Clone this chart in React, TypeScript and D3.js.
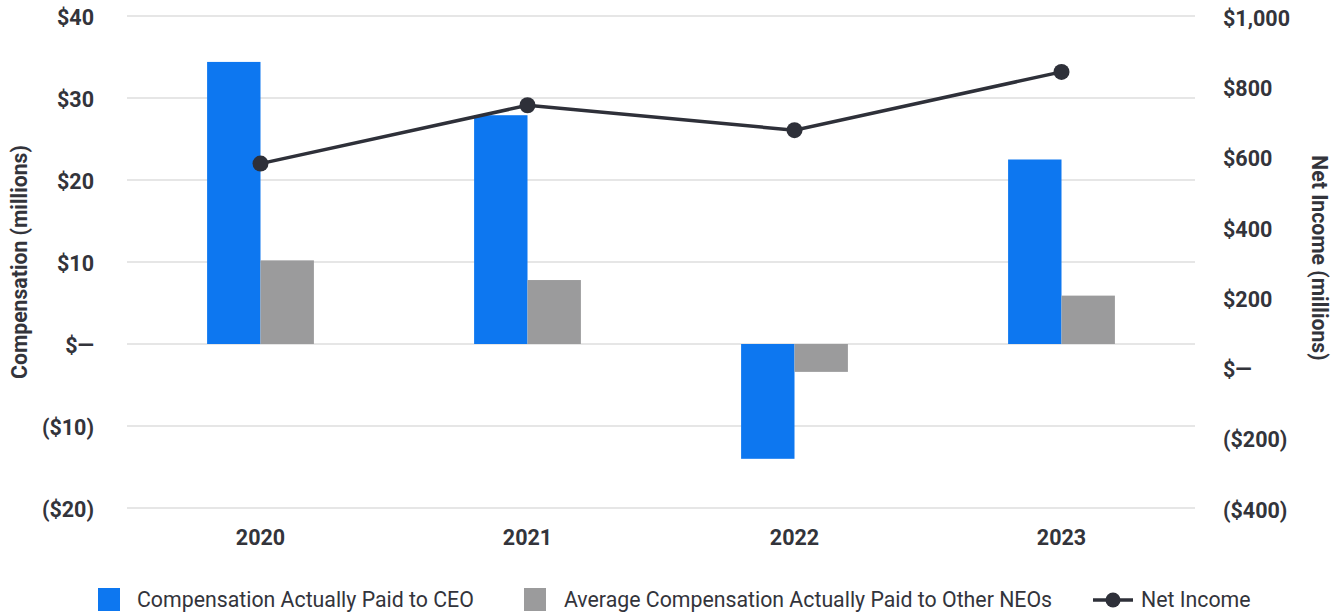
import React from "react";
import * as d3 from "d3";

const years = ["2020", "2021", "2022", "2023"];
const ceoPay = [34.4, 27.9, -14.0, 22.5];
const neoPay = [10.2, 7.8, -3.4, 5.9];
const netIncome = [580, 746, 675, 841];
const leftTicks = [40, 30, 20, 10, 0, -10, -20];
const rightTicks = [1000, 800, 600, 400, 200, 0, -200, -400];

const W = 1331;
const H = 614;
const plotLeft = 127;
const plotRight = 1195;
const plotTop = 16;
const plotBottom = 508;

const BLUE = "#0d77f0";
const GRAY = "#9b9b9c";
const DARK = "#2e3039";
const TEXT = "#33343b";
const FONT = "Roboto, 'Noto Sans', sans-serif";
const TICK_FS = 21.5;
const TITLE_FS = 21.2;
const LEG_FS = 21.3;

function fmtLeft(v: number) {
  if (v === 0) return "$\u2014";
  return v < 0 ? `($${-v})` : `$${v}`;
}
const comma = d3.format(",");
function fmtRight(v: number) {
  if (v === 0) return "$\u2014";
  return v < 0 ? `($${comma(-v)})` : `$${comma(v)}`;
}

export default function App() {
  const x = d3.scaleBand<string>().domain(years).range([plotLeft, plotRight]).paddingInner(0).paddingOuter(0);
  const yL = d3.scaleLinear().domain([-20, 40]).range([plotBottom, plotTop]);
  const yR = d3.scaleLinear().domain([-400, 1000]).range([plotBottom, plotTop]);
  const bw = x.bandwidth() * 0.2;

  const line = d3
    .line<number>()
    .x((_, i) => (x(years[i]) as number) + x.bandwidth() / 2)
    .y((d) => yR(d));

  return (
    <svg
      width={W}
      height={H}
      style={{ position: "absolute", left: 0, top: 0, display: "block", background: "#fff" }}
      fontFamily={FONT}
    >
      {leftTicks.map((t) => (
        <line key={"g" + t} x1={plotLeft} x2={plotRight} y1={yL(t)} y2={yL(t)} stroke="#e6e6e6" strokeWidth={2} />
      ))}
      {leftTicks.map((t) => (
        <text key={"l" + t} x={94} y={yL(t)} dy="0.42em" textAnchor="end" fontSize={TICK_FS} fontWeight={700} fill={TEXT}>
          {fmtLeft(t)}
        </text>
      ))}
      {rightTicks.map((t) => (
        <text key={"r" + t} x={1223} y={yR(t)} dy="0.45em" textAnchor="start" fontSize={TICK_FS} fontWeight={700} fill={TEXT}>
          {fmtRight(t)}
        </text>
      ))}
      <text
        transform={`translate(20,262) rotate(-90)`}
        textAnchor="middle"
        dy="0.35em"
        fontSize={TITLE_FS}
        fontWeight={700}
        fill={TEXT}
      >
        Compensation (millions)
      </text>
      <text
        transform={`translate(1319,258) rotate(90)`}
        textAnchor="middle"
        dy="0.35em"
        fontSize={TITLE_FS}
        fontWeight={700}
        fill={TEXT}
      >
        Net Income (millions)
      </text>
      {years.map((yr, i) => {
        const cx = (x(yr) as number) + x.bandwidth() / 2;
        const c = ceoPay[i];
        const n = neoPay[i];
        return (
          <g key={yr}>
            <rect x={cx - bw} width={bw} y={Math.min(yL(c), yL(0))} height={Math.abs(yL(c) - yL(0))} fill={BLUE} />
            <rect x={cx} width={bw} y={Math.min(yL(n), yL(0))} height={Math.abs(yL(n) - yL(0))} fill={GRAY} />
            <text x={cx} y={537} dy="0.35em" textAnchor="middle" fontSize={TICK_FS} fontWeight={700} fill={TEXT}>
              {yr}
            </text>
          </g>
        );
      })}
      <path d={line(netIncome) || ""} fill="none" stroke={DARK} strokeWidth={3.5} />
      {netIncome.map((v, i) => (
        <circle key={i} cx={(x(years[i]) as number) + x.bandwidth() / 2} cy={yR(v)} r={8} fill={DARK} />
      ))}
      <g fontSize={LEG_FS} fill={TEXT}>
        <rect x={98} y={588} width={22} height={23} fill={BLUE} />
        <text x={137} y={600} dy="0.35em">Compensation Actually Paid to CEO</text>
        <rect x={524} y={588} width={22} height={23} fill={GRAY} />
        <text x={564} y={600} dy="0.35em">Average Compensation Actually Paid to Other NEOs</text>
        <line x1={1093} x2={1133} y1={600} y2={600} stroke={DARK} strokeWidth={3.5} />
        <circle cx={1113} cy={600} r={7.5} fill={DARK} />
        <text x={1141} y={600} dy="0.35em">Net Income</text>
      </g>
    </svg>
  );
}
